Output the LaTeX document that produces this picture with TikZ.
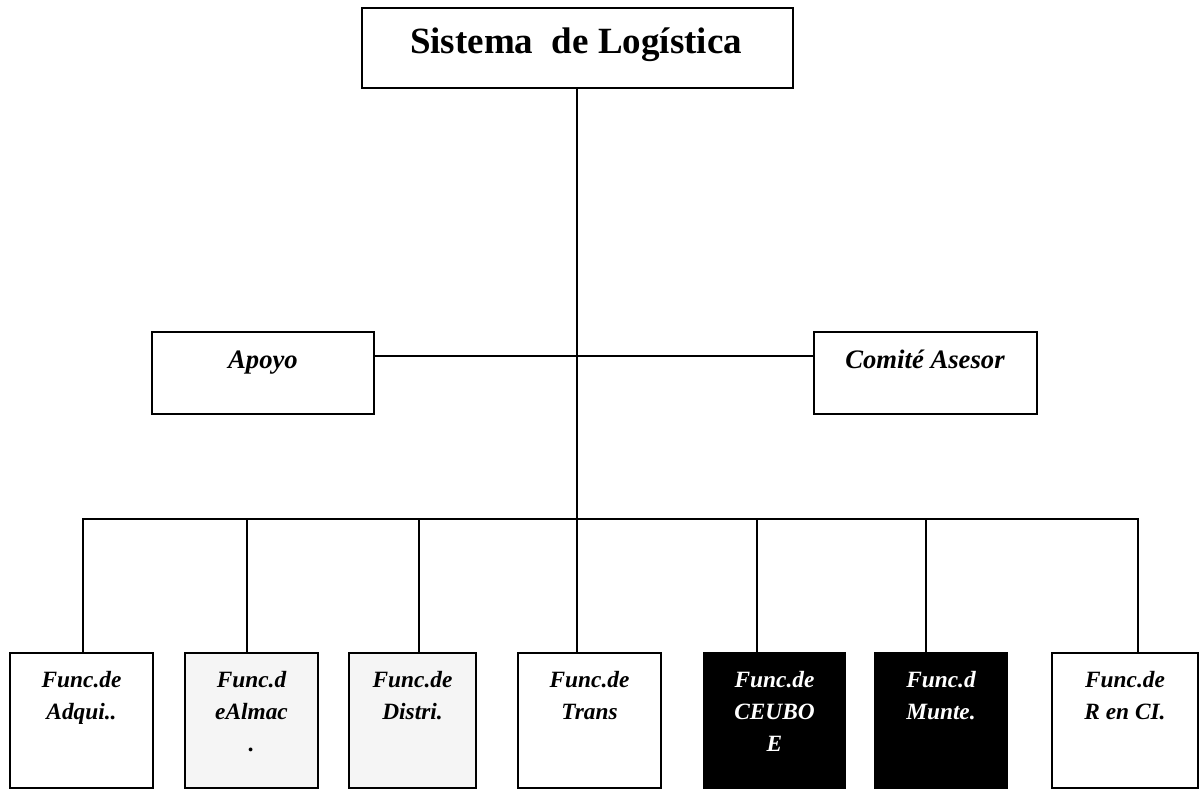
\documentclass[tikz,border=0pt]{standalone}
\usepackage{fontspec}
\setmainfont{Liberation Serif}
\begin{document}
\begin{tikzpicture}[x=0.75pt,y=-0.75pt,
  box/.style={draw=black, line width=1.6pt, inner sep=0pt, rectangle},
  lightbox/.style={box, fill=black!4},
  darkbox/.style={box, fill=black},
  conn/.style={draw=black, line width=1.6pt},
  toptxt/.style={font=\fontsize{27.75}{33}\selectfont\bfseries, inner sep=0pt},
  midtxt/.style={font=\fontsize{20}{24}\selectfont\bfseries\itshape, inner sep=0pt},
  bottxt/.style={font=\fontsize{17.5}{24}\selectfont\bfseries\itshape, align=center, inner sep=0pt, anchor=base},
  bot/.style={box, minimum height=101.25pt},
]
\useasboundingbox (0,0) rectangle (1200,790);

% boxes
\node[box, minimum width=323.25pt, minimum height=60pt] (top) at (577.5,48) {};
\node[box, minimum width=166.5pt, minimum height=61.5pt] (apoyo) at (263,373) {};
\node[box, minimum width=167.25pt, minimum height=61.5pt] (comite) at (925.5,373) {};

\node[bot, minimum width=107.25pt] (b1) at (81.5,720.5) {};
\node[bot, lightbox, minimum width=99.75pt] (b2) at (251.5,720.5) {};
\node[bot, lightbox, minimum width=95.25pt] (b3) at (412.5,720.5) {};
\node[bot, minimum width=107.25pt] (b4) at (589.5,720.5) {};
\node[bot, darkbox, minimum width=105.75pt] (b5) at (774.5,720.5) {};
\node[bot, darkbox, minimum width=99pt] (b6) at (941,720.5) {};
\node[bot, minimum width=109.5pt] (b7) at (1125,720.5) {};

% texts (base anchor = baseline of the last line)
\node[toptxt, anchor=base] (ttop) at (576,53) {Sistema\ \ de Logística};
\node[midtxt, anchor=base] (tapoyo) at (263,368) {Apoyo};
\node[midtxt, anchor=base] (tcomite) at (925,368) {Comité Asesor};

\node[bottxt] (t1) at (81.5,719) {Func.de\\Adqui..};
\node[bottxt] (t2) at (251.5,751) {Func.d\\eAlmac\\.};
\node[bottxt] (t3) at (412.5,719) {Func.de\\Distri.};
\node[bottxt] (t4) at (589.5,719) {Func.de\\Trans};
\node[bottxt, text=white] (t5) at (774.5,751) {Func.de\\CEUBO\\E};
\node[bottxt, text=white] (t6) at (941,719) {Func.d\\Munte.};
\node[bottxt] (t7) at (1125,719) {Func.de\\R en CI.};

% connectors
\coordinate (bus) at (577,519);
\coordinate (hm) at (577,356);
\coordinate (d1) at (83,519);
\coordinate (d2) at (247,519);
\coordinate (d3) at (419,519);
\coordinate (d5) at (757,519);
\coordinate (d6) at (926,519);
\coordinate (d7) at (1138,519);

\draw[conn] (top.south -| bus) -- (bus);
\draw[conn] (apoyo.east |- hm) -- (comite.west |- hm);
\draw[conn, line cap=rect] (d1) -- (d7);
\draw[conn] (d1) -- (d1 |- b1.north);
\draw[conn] (d2) -- (d2 |- b2.north);
\draw[conn] (d3) -- (d3 |- b3.north);
\draw[conn] (bus) -- (bus |- b4.north);
\draw[conn] (d5) -- (d5 |- b5.north);
\draw[conn] (d6) -- (d6 |- b6.north);
\draw[conn] (d7) -- (d7 |- b7.north);
\end{tikzpicture}
\end{document}
